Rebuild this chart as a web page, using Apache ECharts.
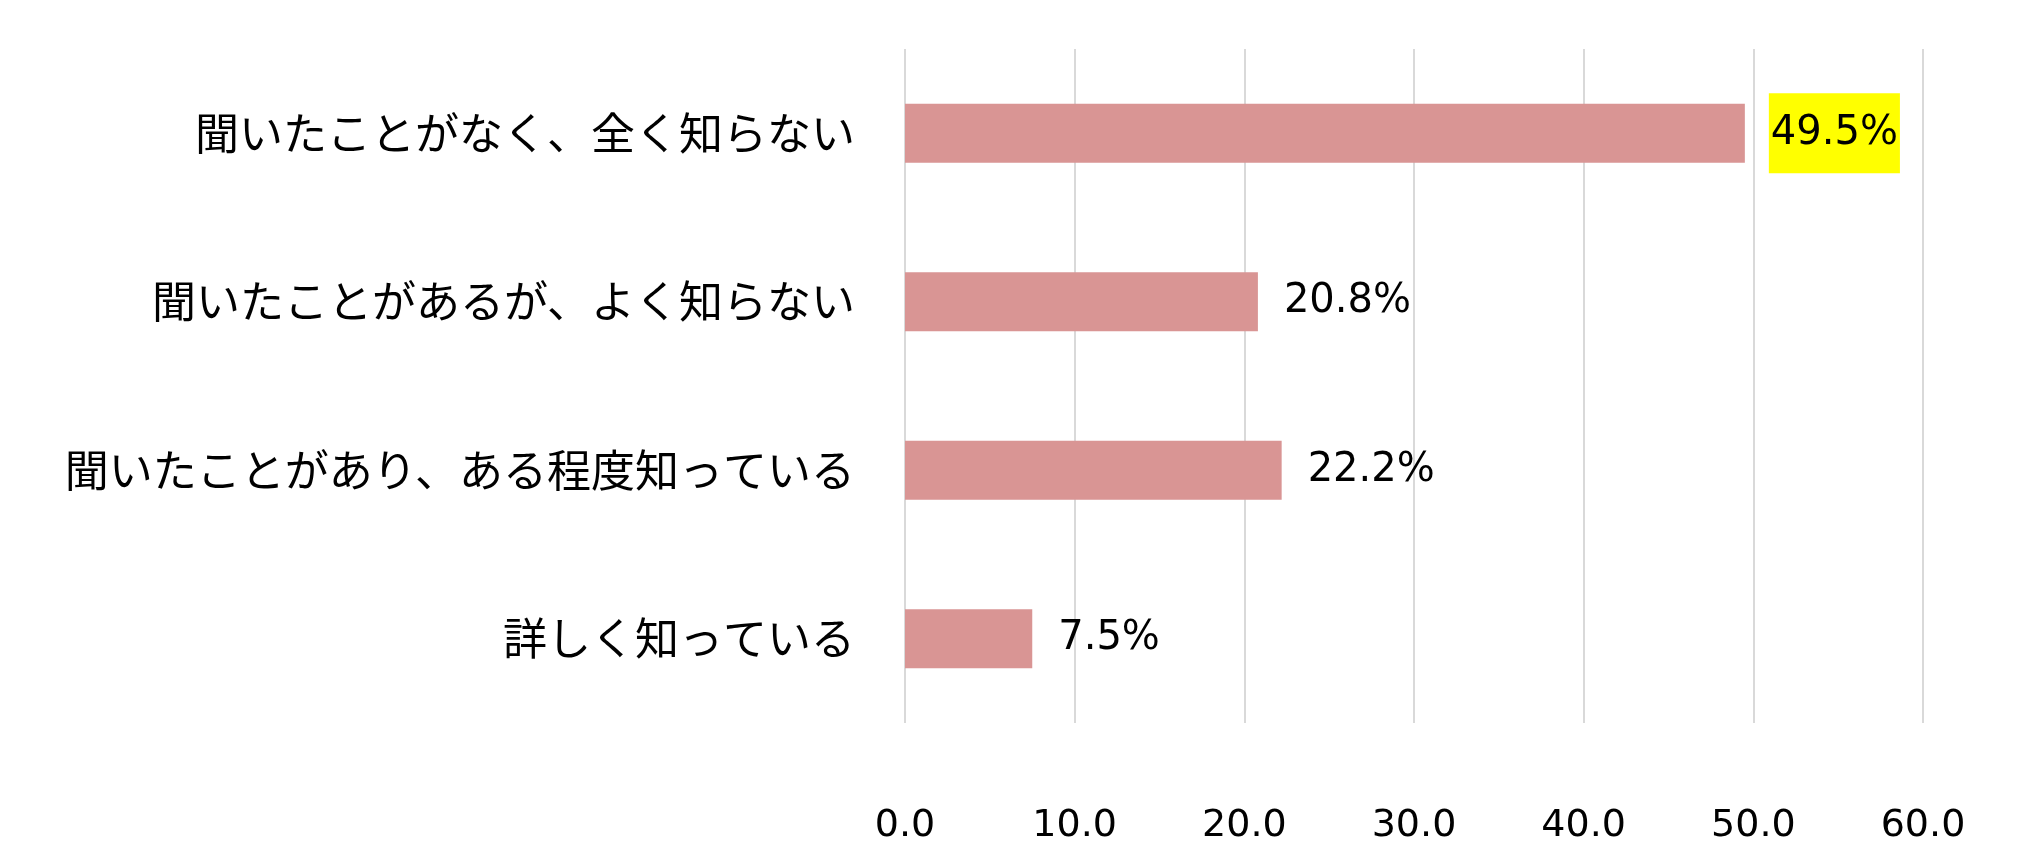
<!DOCTYPE html>
<html><head><meta charset="utf-8">
<script src="https://cdn.jsdelivr.net/npm/echarts@6/dist/echarts.min.js"></script>
<style>html,body{margin:0;padding:0;background:#fff}#c{width:2025px;height:859px}</style>
</head><body><div id="c"></div>
<script>
const categories = ['詳しく知っている','聞いたことがあり、ある程度知っている','聞いたことがあるが、よく知らない','聞いたことがなく、全く知らない'];
const values = [7.5, 22.2, 20.8, 49.5];
const xTicks = [0,10,20,30,40,50,60];
const font = '"Noto Sans CJK JP", "Noto Sans", sans-serif';
const numFont = '"DejaVu Sans", sans-serif';
const chart = echarts.init(document.getElementById('c'));
chart.setOption({
  animation:false,
  grid:{left:905,right:102,top:49,height:674},
  xAxis:{type:'value',min:xTicks[0],max:xTicks[xTicks.length-1],interval:10,
    axisLine:{show:false},axisTick:{show:false},
    splitLine:{lineStyle:{color:'#d9d9d9',width:2}},
    axisLabel:{margin:84,fontSize:38,color:'#000',fontFamily:numFont,formatter:v=>v.toFixed(1)}},
  yAxis:{type:'category',data:categories,
    axisLine:{show:false},axisTick:{show:false},
    axisLabel:{margin:50,fontSize:44,color:'#000',fontFamily:font}},
  series:[{type:'bar',barWidth:59,itemStyle:{color:'#D99594'},
    data:values.map((v,i)=>({value:v,label: i===3?{backgroundColor:'#ffff00',padding:[20,2,20,2],distance:24}:{}})),
    label:{show:true,position:'right',distance:26,fontSize:40,color:'#000',fontFamily:numFont,formatter:p=>p.value.toFixed(1)+'%'}}]
});
</script></body></html>
